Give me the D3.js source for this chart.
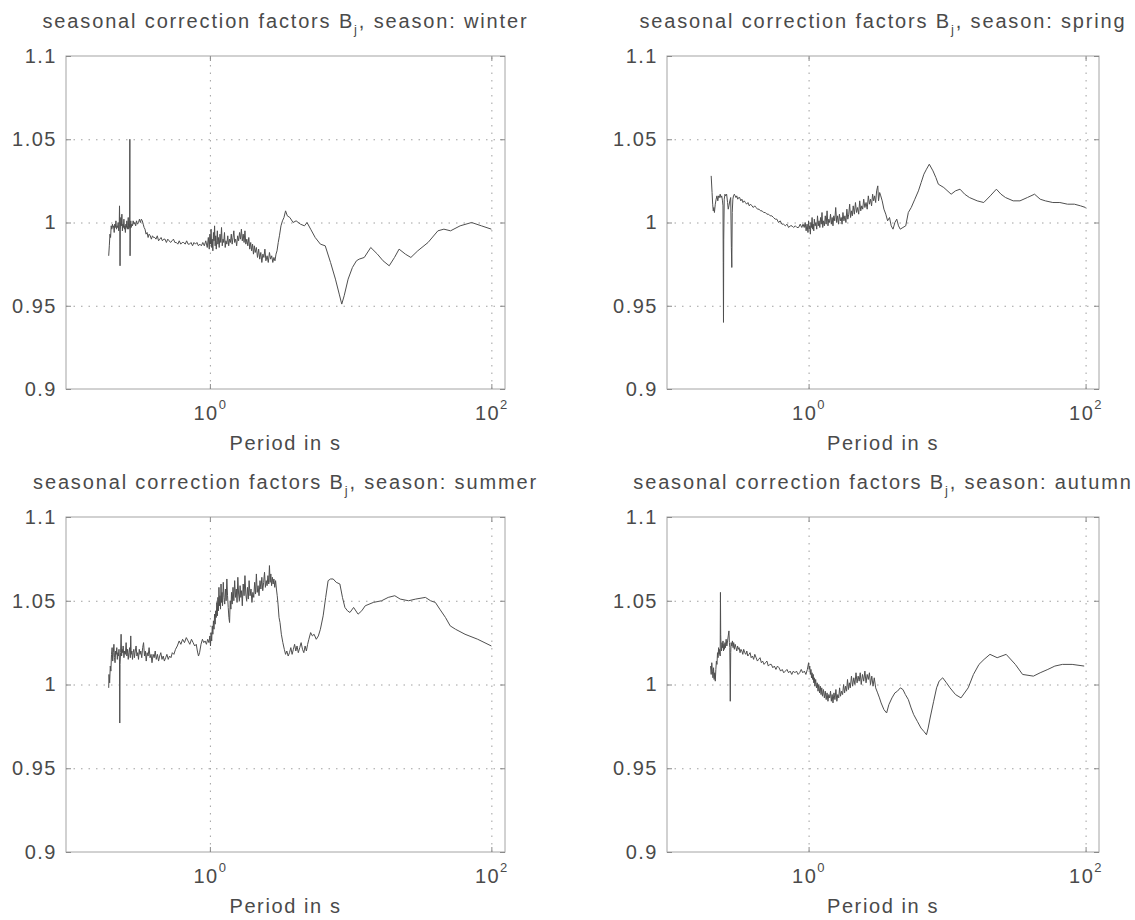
<!DOCTYPE html>
<html>
<head>
<meta charset="utf-8">
<script src="https://cdn.jsdelivr.net/npm/d3@7"></script>
<style>
  body { margin: 0; background: #fff; }
  svg { display: block; font-family: "Liberation Sans", Arial, Helvetica, sans-serif; }
</style>
</head>
<body>
<svg id="fig" width="1135" height="920"></svg>
<script>
// Seasonal correction factors B_j against period (s), one panel per season.
const seasons = ["winter", "spring", "summer", "autumn"];

// [period in s, B_j]
const winter = [
  [0.191,0.980],[0.193,0.986],[0.195,0.993],[0.197,0.991],[0.199,0.998],[0.201,0.996],[0.203,0.999],
  [0.205,0.997],[0.207,0.998],[0.209,0.994],[0.211,0.999],[0.213,0.997],[0.215,1.001],[0.217,0.996],
  [0.219,0.998],[0.221,0.997],[0.223,1.000],[0.225,0.995],[0.227,0.999],[0.228,1.010],[0.229,0.999],
  [0.230,0.974],[0.231,0.996],[0.233,1.003],[0.235,0.998],[0.237,1.005],[0.239,0.995],[0.241,0.999],
  [0.243,0.997],[0.245,1.002],[0.247,0.996],[0.249,0.998],[0.251,0.994],[0.253,0.999],[0.255,0.997],
  [0.257,1.001],[0.259,0.996],[0.261,0.998],[0.263,1.003],[0.265,0.996],[0.267,0.999],[0.269,0.997],
  [0.270,1.050],[0.2705,0.999],[0.271,0.980],[0.272,0.996],[0.274,1.001],[0.276,0.997],[0.279,0.999],
  [0.282,0.998],[0.285,1.001],[0.289,0.999],[0.293,1.000],[0.297,0.998],[0.301,1.001],[0.306,0.999],
  [0.311,1.000],[0.316,1.002],[0.321,1.000],[0.326,1.002],[0.331,1.001],[0.336,0.999],[0.341,0.997],
  [0.346,0.996],[0.352,0.993],[0.358,0.994],[0.364,0.991],[0.370,0.993],[0.377,0.992],[0.384,0.990],
  [0.391,0.992],[0.398,0.991],[0.406,0.991],[0.414,0.990],[0.423,0.992],[0.432,0.989],[0.441,0.990],
  [0.450,0.991],[0.460,0.989],[0.470,0.990],[0.480,0.990],[0.491,0.988],[0.502,0.990],[0.514,0.989],
  [0.526,0.988],[0.538,0.989],[0.551,0.990],[0.564,0.988],[0.578,0.988],[0.592,0.987],[0.606,0.989],
  [0.621,0.987],[0.636,0.988],[0.652,0.988],[0.668,0.987],[0.684,0.989],[0.700,0.987],[0.717,0.987],
  [0.735,0.988],[0.753,0.986],[0.771,0.988],[0.790,0.987],[0.809,0.988],[0.829,0.986],[0.849,0.987],
  [0.870,0.986],[0.891,0.988],[0.913,0.986],[0.935,0.989],[0.958,0.985],[0.975,0.991],[0.990,0.984],
  [1.000,0.993],[1.010,0.987],[1.020,0.996],[1.030,0.985],[1.040,0.990],[1.050,0.983],[1.060,0.994],
  [1.070,0.989],[1.080,0.998],[1.090,0.986],[1.100,0.992],[1.110,0.984],[1.120,0.989],[1.130,0.995],
  [1.140,0.987],[1.150,0.991],[1.165,0.985],[1.180,0.993],[1.195,0.988],[1.210,0.997],[1.225,0.986],
  [1.240,0.990],[1.255,0.988],[1.270,0.994],[1.285,0.985],[1.300,0.989],[1.320,0.987],[1.340,0.992],
  [1.360,0.986],[1.380,0.990],[1.400,0.988],[1.420,0.993],[1.440,0.987],[1.460,0.991],[1.480,0.995],
  [1.500,0.988],[1.525,0.990],[1.550,0.986],[1.575,0.992],[1.600,0.989],[1.625,0.994],[1.650,0.990],
  [1.675,0.996],[1.700,0.989],[1.725,0.993],[1.750,0.988],[1.775,0.995],[1.800,0.987],[1.830,0.990],
  [1.860,0.986],[1.890,0.991],[1.920,0.984],[1.950,0.988],[1.980,0.983],[2.010,0.987],[2.040,0.981],
  [2.070,0.986],[2.100,0.982],[2.140,0.985],[2.18,0.979],[2.22,0.984],[2.26,0.978],[2.30,0.982],
  [2.34,0.976],[2.38,0.981],[2.42,0.979],[2.46,0.984],[2.50,0.977],[2.55,0.980],[2.60,0.976],
  [2.65,0.982],[2.70,0.978],[2.75,0.980],[2.80,0.976],[2.85,0.979],[2.90,0.977],[2.95,0.981],
  [3.00,0.983],[3.06,0.988],[3.12,0.992],[3.20,0.998],[3.28,1.001],[3.36,1.003],[3.45,1.007],
  [3.55,1.004],[3.70,1.003],[3.90,1.000],[4.10,1.001],[4.40,0.999],[4.70,0.998],[4.90,1.000],
  [5.20,0.996],[5.60,0.991],[6.10,0.987],[6.60,0.986],[7.20,0.976],[7.80,0.966],[8.30,0.957],
  [8.65,0.951],[9.00,0.956],[9.60,0.966],[10.3,0.973],[11.0,0.977],[11.5,0.978],[12.5,0.979],
  [13.9,0.985],[15.5,0.981],[17.0,0.977],[18.8,0.974],[20.5,0.979],[22.1,0.984],[24.5,0.981],
  [26.8,0.979],[30.0,0.983],[35.5,0.988],[41.7,0.995],[46.0,0.996],[51.3,0.995],[60.0,0.998],
  [72.4,1.000],[85.0,0.998],[100,0.996]
];

const spring = [
  [0.198,1.028],[0.201,1.018],[0.203,1.011],[0.205,1.007],[0.207,1.009],[0.209,1.006],[0.212,1.011],
  [0.215,1.014],[0.218,1.016],[0.221,1.013],[0.224,1.016],[0.227,1.015],[0.230,1.017],[0.233,1.015],
  [0.236,1.016],[0.239,1.013],[0.241,1.010],[0.242,0.976],[0.243,0.940],[0.244,0.990],[0.246,1.014],
  [0.249,1.017],[0.252,1.016],[0.256,1.017],[0.260,1.012],[0.263,1.008],[0.266,1.010],[0.270,1.013],
  [0.274,1.015],[0.277,0.985],[0.279,0.973],[0.281,1.006],[0.284,1.014],[0.287,1.016],[0.291,1.017],
  [0.295,1.016],[0.299,1.015],[0.303,1.016],[0.308,1.014],[0.313,1.015],[0.318,1.015],[0.324,1.013],
  [0.330,1.014],[0.336,1.012],[0.343,1.013],[0.350,1.012],[0.357,1.011],[0.365,1.012],[0.373,1.010],
  [0.381,1.011],[0.390,1.010],[0.399,1.009],[0.408,1.010],[0.418,1.009],[0.428,1.008],[0.439,1.008],
  [0.450,1.007],[0.462,1.007],[0.474,1.006],[0.487,1.006],[0.500,1.005],[0.514,1.005],[0.528,1.004],
  [0.543,1.004],[0.558,1.003],[0.574,1.002],[0.590,1.002],[0.607,1.000],[0.624,1.001],[0.642,0.999],
  [0.660,0.999],[0.679,0.998],[0.698,0.999],[0.718,0.997],[0.738,0.998],[0.759,0.998],[0.780,0.997],
  [0.802,0.998],[0.824,0.997],[0.847,0.997],[0.870,0.999],[0.893,0.997],[0.912,0.999],
  [0.93,0.997],[0.945,1.000],[0.96,0.995],[0.975,0.999],[0.99,0.994],[1.00,1.001],[1.01,0.996],
  [1.02,0.998],[1.03,0.993],[1.04,1.000],[1.05,0.997],[1.06,1.003],[1.07,0.996],[1.08,0.999],
  [1.09,0.995],[1.10,1.002],[1.115,0.998],[1.13,1.000],[1.145,0.996],[1.16,1.004],[1.175,0.998],
  [1.19,1.001],[1.205,0.997],[1.22,1.003],[1.235,0.999],[1.25,1.006],[1.265,0.997],[1.28,1.001],
  [1.30,0.998],[1.32,1.004],[1.34,0.999],[1.36,1.007],[1.38,0.998],[1.40,1.002],[1.42,1.000],
  [1.44,1.005],[1.46,0.999],[1.48,1.003],[1.50,0.998],[1.52,1.004],[1.545,1.001],[1.57,1.009],
  [1.595,1.000],[1.62,1.004],[1.645,0.999],[1.67,1.005],[1.695,1.001],[1.72,1.003],[1.745,0.999],
  [1.77,1.006],[1.80,1.001],[1.83,1.004],[1.86,1.000],[1.89,1.008],[1.92,1.002],[1.95,1.005],
  [1.98,1.011],[2.01,1.003],[2.04,1.007],[2.07,1.004],[2.10,1.010],[2.14,1.005],[2.18,1.012],
  [2.22,1.006],[2.26,1.009],[2.30,1.005],[2.34,1.013],[2.38,1.007],[2.42,1.010],[2.46,1.008],
  [2.50,1.014],[2.55,1.009],[2.60,1.012],[2.65,1.008],[2.70,1.016],[2.75,1.011],[2.80,1.014],
  [2.85,1.010],[2.90,1.017],[2.95,1.013],[3.00,1.016],[3.05,1.012],[3.10,1.019],[3.16,1.022],
  [3.20,1.013],[3.26,1.018],[3.32,1.016],[3.40,1.013],[3.50,1.008],[3.61,1.005],[3.72,1.001],
  [3.84,1.003],[3.95,0.998],[4.07,0.996],[4.20,1.000],[4.33,1.002],[4.46,0.998],[4.59,0.996],
  [4.80,0.997],[5.03,0.998],[5.25,1.006],[5.51,1.009],[5.85,1.014],[6.21,1.019],[6.50,1.024],
  [6.80,1.029],[7.10,1.032],[7.44,1.035],[7.91,1.031],[8.30,1.027],[8.65,1.023],[9.47,1.021],
  [10.7,1.017],[11.5,1.019],[12.4,1.020],[13.4,1.017],[14.5,1.015],[16.5,1.013],[18.4,1.012],
  [20.5,1.016],[22.7,1.020],[24.5,1.017],[26.4,1.015],[30.0,1.013],[33.6,1.013],[38.0,1.015],
  [42.8,1.017],[47.0,1.014],[51.2,1.013],[58.0,1.012],[65.2,1.012],[74.0,1.011],[83.0,1.011],
  [92.0,1.010],[100,1.009]
];

const summer = [
  [0.191,0.998],[0.192,1.006],[0.194,1.001],[0.196,1.011],[0.198,1.008],[0.200,1.018],[0.202,1.022],
  [0.204,1.014],[0.206,1.019],[0.208,1.024],[0.210,1.016],[0.212,1.013],[0.214,1.020],[0.216,1.018],
  [0.218,1.022],[0.220,1.015],[0.222,1.019],[0.224,1.017],[0.226,1.021],[0.228,1.014],[0.229,0.977],
  [0.230,1.012],[0.232,1.019],[0.234,1.030],[0.236,1.017],[0.238,1.021],[0.240,1.019],[0.242,1.023],
  [0.245,1.016],[0.248,1.020],[0.251,1.018],[0.254,1.025],[0.257,1.017],[0.260,1.021],[0.263,1.015],
  [0.266,1.019],[0.269,1.022],[0.272,1.016],[0.274,1.029],[0.276,1.018],[0.279,1.020],[0.282,1.015],
  [0.285,1.019],[0.288,1.021],[0.291,1.016],[0.295,1.020],[0.299,1.023],[0.303,1.017],[0.307,1.019],
  [0.311,1.015],[0.315,1.021],[0.319,1.018],[0.323,1.020],[0.328,1.016],[0.333,1.022],[0.338,1.025],
  [0.343,1.017],[0.348,1.020],[0.353,1.014],[0.358,1.019],[0.364,1.017],[0.370,1.022],[0.376,1.016],
  [0.382,1.018],[0.388,1.013],[0.395,1.018],[0.402,1.016],[0.409,1.020],[0.416,1.015],[0.424,1.018],
  [0.432,1.014],[0.440,1.017],[0.448,1.019],[0.457,1.015],[0.466,1.017],[0.475,1.014],[0.485,1.016],
  [0.495,1.018],[0.506,1.015],[0.517,1.017],[0.529,1.016],[0.541,1.019],[0.555,1.018],[0.570,1.021],
  [0.587,1.023],[0.605,1.026],[0.622,1.024],[0.640,1.027],[0.660,1.025],[0.680,1.028],[0.700,1.026],
  [0.720,1.024],[0.740,1.027],[0.760,1.025],[0.780,1.023],[0.800,1.024],[0.815,1.020],[0.830,1.017],
  [0.845,1.019],[0.865,1.024],[0.885,1.027],[0.905,1.025],[0.925,1.026],[0.945,1.024],[0.965,1.027],
  [0.985,1.025],[1.000,1.029],[1.010,1.023],[1.020,1.031],[1.030,1.026],[1.040,1.035],[1.050,1.030],
  [1.060,1.038],[1.070,1.033],[1.080,1.042],[1.090,1.036],[1.100,1.044],[1.110,1.040],[1.120,1.049],
  [1.130,1.041],[1.140,1.052],[1.150,1.044],[1.160,1.058],[1.170,1.047],[1.180,1.053],[1.190,1.045],
  [1.200,1.060],[1.210,1.049],[1.220,1.055],[1.230,1.047],[1.245,1.061],[1.260,1.052],[1.275,1.048],
  [1.290,1.057],[1.305,1.050],[1.320,1.063],[1.335,1.053],[1.350,1.046],[1.365,1.040],[1.380,1.037],
  [1.395,1.050],[1.410,1.045],[1.425,1.055],[1.440,1.048],[1.460,1.058],[1.480,1.050],[1.500,1.062],
  [1.520,1.052],[1.540,1.057],[1.560,1.049],[1.580,1.064],[1.600,1.054],[1.620,1.050],[1.640,1.059],
  [1.660,1.052],[1.680,1.056],[1.700,1.047],[1.725,1.060],[1.750,1.053],[1.775,1.065],[1.800,1.054],
  [1.825,1.050],[1.850,1.058],[1.875,1.051],[1.900,1.062],[1.930,1.053],[1.960,1.057],[1.990,1.049],
  [2.020,1.055],[2.050,1.052],[2.080,1.061],[2.110,1.054],[2.140,1.066],[2.170,1.055],[2.200,1.059],
  [2.235,1.053],[2.270,1.062],[2.305,1.057],[2.340,1.064],[2.375,1.056],[2.410,1.061],[2.445,1.067],
  [2.480,1.058],[2.515,1.062],[2.550,1.059],[2.585,1.065],[2.620,1.060],[2.650,1.071],[2.680,1.061],
  [2.710,1.066],[2.745,1.059],[2.780,1.064],[2.815,1.060],[2.850,1.063],[2.890,1.058],[2.930,1.062],
  [2.970,1.057],[3.010,1.053],[3.050,1.048],[3.100,1.040],[3.15,1.037],[3.22,1.030],[3.30,1.025],
  [3.38,1.021],[3.45,1.018],[3.52,1.020],[3.60,1.017],[3.68,1.019],[3.76,1.022],[3.84,1.018],
  [3.92,1.021],[4.00,1.024],[4.08,1.020],[4.16,1.023],[4.25,1.019],[4.35,1.022],[4.45,1.025],
  [4.55,1.021],[4.65,1.019],[4.75,1.023],[4.85,1.020],[4.95,1.024],[5.05,1.027],[5.20,1.031],
  [5.35,1.029],[5.50,1.030],[5.70,1.027],[5.90,1.029],[6.10,1.033],[6.38,1.041],[6.65,1.052],
  [6.92,1.062],[7.20,1.063],[7.52,1.063],[7.90,1.061],[8.39,1.060],[8.75,1.052],[9.11,1.046],
  [9.50,1.044],[9.89,1.043],[10.5,1.046],[11.3,1.042],[12.0,1.044],[12.7,1.047],[14.5,1.049],
  [16.6,1.050],[18.5,1.052],[20.6,1.053],[22.5,1.051],[25.8,1.050],[29.0,1.051],[34.0,1.052],
  [37.0,1.050],[40.0,1.049],[43.0,1.045],[47.2,1.040],[51.0,1.035],[55.6,1.033],[65.0,1.030],
  [80.0,1.027],[100,1.023]
];

const autumn = [
  [0.196,1.011],[0.198,1.006],[0.200,1.013],[0.202,1.008],[0.204,1.004],[0.206,1.010],[0.208,1.003],
  [0.210,1.007],[0.212,1.002],[0.214,1.009],[0.216,1.014],[0.218,1.012],[0.220,1.019],[0.222,1.016],
  [0.224,1.022],[0.226,1.018],[0.228,1.021],[0.230,1.017],[0.231,1.055],[0.232,1.030],[0.233,1.024],
  [0.235,1.020],[0.237,1.025],[0.239,1.022],[0.241,1.026],[0.243,1.020],[0.245,1.024],[0.247,1.021],
  [0.249,1.025],[0.251,1.022],[0.254,1.027],[0.257,1.023],[0.260,1.026],[0.263,1.029],[0.266,1.032],
  [0.268,1.025],[0.270,1.022],[0.272,0.990],[0.274,1.019],[0.276,1.025],[0.279,1.023],[0.282,1.026],
  [0.285,1.022],[0.288,1.025],[0.291,1.021],[0.295,1.024],[0.299,1.022],[0.303,1.020],[0.307,1.023],
  [0.311,1.021],[0.315,1.022],[0.320,1.019],[0.325,1.021],[0.330,1.020],[0.335,1.018],[0.340,1.021],
  [0.346,1.019],[0.352,1.018],[0.358,1.020],[0.364,1.017],[0.371,1.018],[0.378,1.019],[0.385,1.016],
  [0.393,1.017],[0.401,1.015],[0.409,1.018],[0.418,1.016],[0.427,1.014],[0.436,1.015],[0.446,1.016],
  [0.456,1.013],[0.466,1.014],[0.477,1.012],[0.488,1.013],[0.500,1.014],[0.512,1.011],[0.525,1.012],
  [0.538,1.012],[0.552,1.010],[0.566,1.011],[0.581,1.009],[0.596,1.011],[0.612,1.010],[0.628,1.008],
  [0.645,1.009],[0.662,1.007],[0.680,1.008],[0.698,1.009],[0.717,1.007],[0.736,1.008],[0.756,1.006],
  [0.776,1.008],[0.797,1.007],[0.818,1.008],[0.840,1.006],[0.862,1.007],[0.885,1.009],[0.908,1.007],
  [0.932,1.008],[0.956,1.006],[0.980,1.009],[1.000,1.013],[1.010,1.009],[1.020,1.011],[1.030,1.006],
  [1.040,1.009],[1.050,1.004],[1.060,1.007],[1.070,1.003],[1.080,1.006],[1.090,1.001],[1.100,1.004],
  [1.110,0.999],[1.125,1.003],[1.140,0.998],[1.155,1.001],[1.170,0.996],[1.185,1.000],[1.200,0.995],
  [1.215,0.999],[1.230,0.994],[1.245,0.998],[1.260,0.993],[1.280,0.997],[1.300,0.992],[1.320,0.996],
  [1.340,0.991],[1.360,0.995],[1.380,0.990],[1.400,0.994],[1.420,0.992],[1.440,0.996],[1.460,0.990],
  [1.480,0.994],[1.500,0.989],[1.525,0.995],[1.550,0.991],[1.575,0.997],[1.600,0.990],[1.625,0.994],
  [1.650,0.992],[1.675,0.998],[1.700,0.993],[1.730,0.996],[1.760,0.994],[1.790,1.000],[1.820,0.995],
  [1.850,0.999],[1.880,0.996],[1.910,1.003],[1.940,0.997],[1.970,1.001],[2.000,0.998],[2.040,1.005],
  [2.080,0.999],[2.120,1.004],[2.160,1.000],[2.200,1.007],[2.240,1.001],[2.280,1.005],[2.320,1.002],
  [2.360,1.007],[2.400,1.000],[2.450,1.006],[2.500,1.002],[2.550,1.008],[2.600,1.001],[2.650,1.006],
  [2.700,1.003],[2.750,1.007],[2.800,1.000],[2.860,1.005],[2.920,0.999],[2.980,1.004],[3.050,0.998],
  [3.15,0.995],[3.25,0.992],[3.34,0.989],[3.50,0.985],[3.66,0.983],[3.80,0.988],[4.00,0.992],
  [4.20,0.995],[4.38,0.996],[4.60,0.998],[4.80,0.997],[5.00,0.994],[5.25,0.991],[5.50,0.986],
  [5.74,0.982],[6.10,0.978],[6.48,0.974],[6.80,0.972],[7.10,0.970],[7.30,0.974],[7.54,0.980],
  [8.00,0.990],[8.40,0.998],[8.76,1.002],[9.30,1.004],[9.90,1.001],[10.5,0.998],[11.5,0.994],
  [12.6,0.992],[14.2,0.998],[15.5,1.006],[17.0,1.012],[18.5,1.015],[20.4,1.018],[23.0,1.016],
  [26.7,1.018],[31.1,1.012],[35.1,1.006],[42.0,1.005],[47.0,1.007],[53.4,1.009],[60.0,1.011],
  [68.0,1.012],[80.0,1.012],[97.7,1.011]
];

const seriesBySeason = { winter, spring, summer, autumn };

// Axis ticks
const periodRange = [0.095, 125];
const factorRange = [0.9, 1.1];
const yTicks = [0.9, 0.95, 1, 1.05, 1.1];
const yTickLabels = ["0.9", "0.95", "1", "1.05", "1.1"];
const yGridTicks = [0.95, 1, 1.05];
const xTicks = [1, 100];
const xTickExponents = ["0", "2"];
const xLabel = "Period in s";

// Subplot frames (2 x 2)
const frames = [
  { x: 66,  y: 56,  w: 439, h: 333 },
  { x: 667, y: 56,  w: 432, h: 333 },
  { x: 66,  y: 517, w: 439, h: 335 },
  { x: 667, y: 517, w: 432, h: 335 }
];

const textColor = "#4a4a4a";
const svg = d3.select("#fig");

seasons.forEach((season, i) => {
  const f = frames[i];
  const g = svg.append("g").attr("transform", `translate(${f.x},${f.y})`);
  const x = d3.scaleLog().domain(periodRange).range([0, f.w]);
  const y = d3.scaleLinear().domain(factorRange).range([f.h, 0]);

  const clipId = `clip-${season}`;
  g.append("clipPath").attr("id", clipId)
    .append("rect").attr("width", f.w).attr("height", f.h);

  // dotted grid
  const gridY = g.append("g")
    .call(d3.axisLeft(y).tickValues(yGridTicks).tickSize(-f.w).tickFormat(""));
  const gridX = g.append("g").attr("transform", `translate(0,${f.h})`)
    .call(d3.axisBottom(x).tickValues(xTicks).tickSize(-f.h).tickFormat(""));
  [gridY, gridX].forEach(gr => {
    gr.select(".domain").remove();
    gr.selectAll("line").attr("stroke", "#a0a0a0").attr("stroke-width", 1)
      .attr("stroke-dasharray", "1.5,6");
  });

  // frame
  g.append("rect").attr("width", f.w).attr("height", f.h)
    .attr("fill", "none").attr("stroke", "#a4a4a4").attr("stroke-width", 1);

  // inward ticks on all four sides
  const tickStyle = sel => {
    sel.select(".domain").remove();
    sel.selectAll("line").attr("stroke", "#8a8a8a");
  };
  const left = g.append("g")
    .call(d3.axisLeft(y).tickValues(yTicks).tickSizeInner(-5).tickSizeOuter(0)
      .tickPadding(9).tickFormat((d, k) => yTickLabels[k]));
  tickStyle(left);
  left.selectAll("text")
    .attr("font-size", 20).attr("fill", textColor).attr("letter-spacing", "1.5px")
    .attr("font-family", null);

  g.append("g").attr("transform", `translate(${f.w},0)`)
    .call(d3.axisRight(y).tickValues(yTicks).tickSizeInner(-5).tickSizeOuter(0).tickFormat(""))
    .call(tickStyle);
  g.append("g")
    .call(d3.axisTop(x).tickValues(xTicks).tickSizeInner(-5).tickSizeOuter(0).tickFormat(""))
    .call(tickStyle);

  const bottom = g.append("g").attr("transform", `translate(0,${f.h})`)
    .call(d3.axisBottom(x).tickValues(xTicks).tickSizeInner(-5).tickSizeOuter(0)
      .tickPadding(12).tickFormat(() => ""));
  tickStyle(bottom);
  bottom.selectAll("text").each(function (d, k) {
    const t = d3.select(this)
      .attr("font-size", 20).attr("fill", textColor).attr("letter-spacing", "1.5px")
      .attr("font-family", null).attr("dy", "0.95em");
    t.append("tspan").text("10");
    t.append("tspan").attr("font-size", 13).attr("dy", "-0.85em").text(xTickExponents[k]);
  });

  // x label
  g.append("text")
    .attr("x", f.w / 2).attr("y", f.h + 61)
    .attr("text-anchor", "middle").attr("font-size", 20).attr("fill", textColor)
    .attr("letter-spacing", "1.6px")
    .text(xLabel);

  // title with subscript j
  const title = g.append("text")
    .attr("x", f.w / 2).attr("y", -28)
    .attr("text-anchor", "middle").attr("font-size", 20).attr("fill", textColor)
    .attr("letter-spacing", "1.85px");
  title.append("tspan").text("seasonal correction factors B");
  title.append("tspan").attr("font-size", 13).attr("dy", 6).text("j");
  title.append("tspan").attr("dy", -6).text(`, season: ${season}`);

  // factor curve
  const line = d3.line().x(d => x(d[0])).y(d => y(d[1]));
  g.append("path")
    .datum(seriesBySeason[season])
    .attr("clip-path", `url(#${clipId})`)
    .attr("fill", "none")
    .attr("stroke", "#4f4f4f")
    .attr("stroke-width", 1)
    .attr("stroke-linejoin", "round")
    .attr("d", line);
});
</script>
</body>
</html>
